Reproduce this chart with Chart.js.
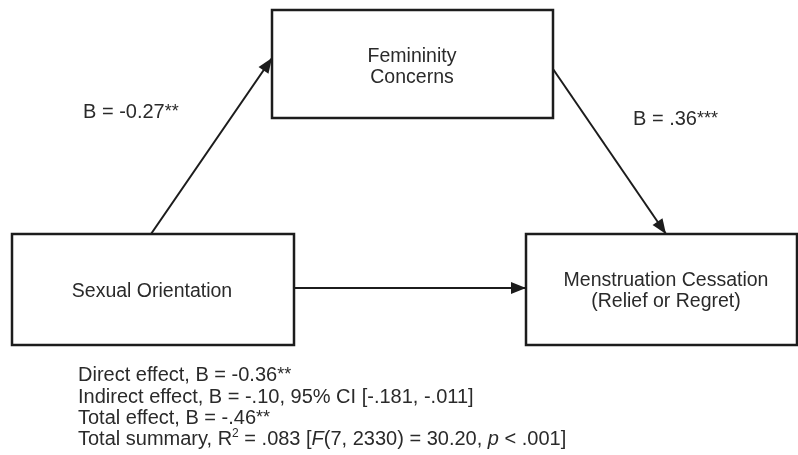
<!DOCTYPE html>
<html>
<head>
<meta charset="utf-8">
<script src="https://cdn.jsdelivr.net/npm/chart.js@4.4.1/dist/chart.umd.min.js"></script>
<style>
    html, body { margin: 0; padding: 0; background: #fff; }
    #wrap { width: 798px; height: 455px; }
</style>
</head>
<body>
<div id="wrap"><canvas id="mediationModel"></canvas></div>
<script>
// variables of the mediation model: X, M, Y
const nodeLabels = [
    ['Sexual Orientation'],
    ['Femininity', 'Concerns'],
    ['Menstruation Cessation', '(Relief or Regret)']
];

// a path (X -> M) and b path (M -> Y)
const pathLabels = [
    [['B = -0.27', 'n'], ['**', 's']],
    [['B = .36', 'n'], ['***', 's']]
];

// effects listed under the diagram
const summaryLines = [
    [['Direct effect, B = -0.36', 'n'], ['**', 's']],
    [['Indirect effect, B = -.10, 95% CI [-.181, -.011]', 'n']],
    [['Total effect, B = -.46', 'n'], ['**', 's']],
    [['Total summary, R', 'n'], ['2', 'sup'], [' = .083 [', 'n'], ['F', 'i'], ['(7, 2330) = 30.20, ', 'n'], ['p', 'i'], [' < .001]', 'n']]
];

// layout (axis units = pixels of the figure)
const boxes = [
    { x0: 12, x1: 294, y0: 234, y1: 345, textX: 152, baselines: [297] },
    { x0: 272, x1: 553, y0: 10, y1: 118, textX: 412, baselines: [62, 83] },
    { x0: 526, x1: 797, y0: 234, y1: 345, textX: 666, baselines: [286, 307] }
];
const arrows = [
    { from: [151, 234], to: [272, 58] },
    { from: [553, 69], to: [666, 234] },
    { from: [294, 288], to: [526, 288] }
];
const pathLabelPos = [[83, 118], [633, 125]];
const summaryPos = { x: 78, baselines: [381, 402.5, 423.5, 444.5] };

const lineColor = '#1c1c1c';
const textColor = '#2a2a2a';
const fontFamily = '"Liberation Sans", Arial, sans-serif';

const datasets = [];
boxes.forEach(function (b) {
    datasets.push({
        data: [{ x: b.x0, y: b.y0 }, { x: b.x1, y: b.y0 }, { x: b.x1, y: b.y1 }, { x: b.x0, y: b.y1 }, { x: b.x0, y: b.y0 }],
        showLine: true, borderColor: lineColor, borderWidth: 2.5, pointRadius: 0,
        tension: 0, clip: false, borderJoinStyle: 'miter', borderCapStyle: 'square', kind: 'box'
    });
});
arrows.forEach(function (a) {
    datasets.push({
        data: [{ x: a.from[0], y: a.from[1] }, { x: a.to[0], y: a.to[1] }],
        showLine: true, borderColor: lineColor, borderWidth: 2, pointRadius: 0,
        tension: 0, clip: false, kind: 'arrow'
    });
});

function segFont(style, size) {
    if (style === 'i') return 'italic ' + size + 'px ' + fontFamily;
    if (style === 's') return Math.round(size * 0.9) + 'px ' + fontFamily;
    if (style === 'sup') return Math.round(size * 0.62) + 'px ' + fontFamily;
    return size + 'px ' + fontFamily;
}

function drawRich(ctx, segs, x, y, size) {
    ctx.textAlign = 'left';
    ctx.textBaseline = 'alphabetic';
    let cx = x;
    segs.forEach(function (s) {
        ctx.font = segFont(s[1], size);
        let dy = 0;
        if (s[1] === 's') dy = -size * 0.05;
        if (s[1] === 'sup') dy = -size * 0.38;
        ctx.fillText(s[0], cx, y + dy);
        cx += ctx.measureText(s[0]).width;
    });
}

const diagramText = {
    id: 'diagramText',
    afterDatasetsDraw: function (chart) {
        const ctx = chart.ctx;
        const xs = chart.scales.x;
        const ys = chart.scales.y;

        // arrow heads
        chart.data.datasets.forEach(function (ds, i) {
            if (ds.kind !== 'arrow') return;
            const pts = chart.getDatasetMeta(i).data;
            const p0 = pts[0], p1 = pts[1];
            const ang = Math.atan2(p1.y - p0.y, p1.x - p0.x);
            const len = 15, half = 6;
            ctx.save();
            ctx.translate(p1.x, p1.y);
            ctx.rotate(ang);
            ctx.beginPath();
            ctx.moveTo(0, 0);
            ctx.lineTo(-len, -half);
            ctx.lineTo(-len, half);
            ctx.closePath();
            ctx.fillStyle = lineColor;
            ctx.fill();
            ctx.restore();
        });

        ctx.save();
        ctx.fillStyle = textColor;

        // node labels
        ctx.font = '19.5px ' + fontFamily;
        ctx.textAlign = 'center';
        ctx.textBaseline = 'alphabetic';
        nodeLabels.forEach(function (lines, i) {
            const b = boxes[i];
            lines.forEach(function (t, j) {
                ctx.fillText(t, xs.getPixelForValue(b.textX), ys.getPixelForValue(b.baselines[j]));
            });
        });

        // path coefficients
        pathLabels.forEach(function (segs, i) {
            drawRich(ctx, segs, xs.getPixelForValue(pathLabelPos[i][0]), ys.getPixelForValue(pathLabelPos[i][1]), 20);
        });

        // summary
        summaryLines.forEach(function (segs, i) {
            drawRich(ctx, segs, xs.getPixelForValue(summaryPos.x), ys.getPixelForValue(summaryPos.baselines[i]), 20);
        });
        ctx.restore();
    }
};

new Chart(document.getElementById('mediationModel'), {
    type: 'scatter',
    data: { datasets: datasets },
    options: {
        responsive: true,
        maintainAspectRatio: false,
        animation: false,
        events: [],
        layout: { padding: 0 },
        plugins: { legend: { display: false }, tooltip: { enabled: false } },
        scales: {
            x: { type: 'linear', min: 0, max: 798, display: false },
            y: { type: 'linear', min: 0, max: 455, reverse: true, display: false }
        }
    },
    plugins: [diagramText]
});
</script>
</body>
</html>
